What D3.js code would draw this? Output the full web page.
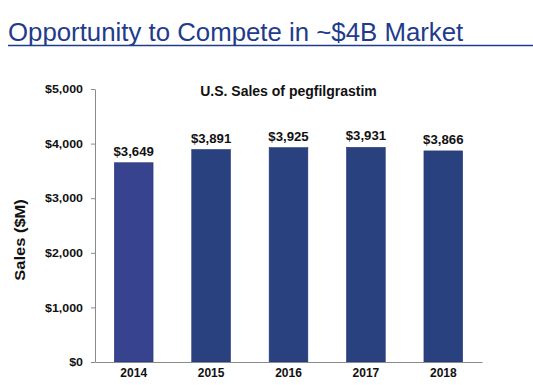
<!DOCTYPE html>
<html><head><meta charset="utf-8">
<script src="https://cdn.jsdelivr.net/npm/d3@7"></script>
<style>body{margin:0;background:#fff;}svg{display:block;}</style>
</head><body>
<svg id="c" width="533" height="385"></svg>
<script>
const years = ["2014","2015","2016","2017","2018"];
const sales = [3649, 3891, 3925, 3931, 3866];
const yTicks = [0, 1000, 2000, 3000, 4000, 5000];
const barColors = ["#37438f", "#29427f", "#29427f", "#29427f", "#29427f"];

const svg = d3.select("#c");
const font = "Arial, 'Liberation Sans', sans-serif";

function stretch(sel, k) {
  sel.each(function() {
    const len = this.getComputedTextLength();
    d3.select(this).attr("textLength", len * k).attr("lengthAdjust", "spacingAndGlyphs");
  });
}

// Slide title
svg.append("text").attr("x", 8).attr("y", 40.5)
  .attr("font-family", font).attr("font-size", 25.8).attr("fill", "#1f3c8c")
  .text("Opportunity to Compete in ~$4B Market");
svg.append("line").attr("x1", 8).attr("x2", 533).attr("y1", 45.5).attr("y2", 45.5)
  .attr("stroke", "#1f3c8c").attr("stroke-width", 1.5);

const x = d3.scaleBand().domain(years).range([95, 482]).paddingInner(0.5).paddingOuter(0.25);
const y = d3.scaleLinear().domain([0, 5000]).range([362, 89]);

// bars
svg.selectAll("rect.bar").data(sales).join("rect").attr("class","bar")
  .attr("x", (d,i) => x(years[i])).attr("width", x.bandwidth())
  .attr("y", d => y(d)).attr("height", d => y(0) - y(d))
  .attr("fill", (d,i) => barColors[i]).attr("stroke", "#223570").attr("stroke-width", 0.6);

// value labels
const vals = svg.selectAll("text.val").data(sales).join("text").attr("class","val")
  .attr("x", (d,i) => x(years[i]) + x.bandwidth()/2).attr("y", d => y(d) - 7)
  .attr("text-anchor", "middle").attr("font-family", font).attr("font-weight", "bold")
  .attr("font-size", 12).attr("fill", "#111")
  .text(d => "$" + d3.format(",")(d));
stretch(vals, 1.1);

// y axis
const yAxis = svg.append("g").attr("transform", "translate(95,0)")
  .call(d3.axisLeft(y).tickValues(yTicks).tickFormat(d => "$" + d3.format(",")(d)).tickSize(4).tickSizeOuter(0));
yAxis.select(".domain").attr("stroke", "#8a8a8a");
yAxis.selectAll(".tick line").attr("stroke", "#8a8a8a");
const yt = yAxis.selectAll(".tick text").attr("font-family", font).attr("font-weight", "bold")
  .attr("font-size", 11.3).attr("fill", "#111").attr("x", -12);
stretch(yt, 1.1);

// x axis
const xAxis = svg.append("g").attr("transform", "translate(0,362)")
  .call(d3.axisBottom(x).tickSize(0).tickSizeOuter(0));
xAxis.select(".domain").attr("stroke", "#8a8a8a");
xAxis.selectAll(".tick text").attr("font-family", font).attr("font-weight", "bold")
  .attr("font-size", 12).attr("fill", "#111").attr("dy", "1.0em");

// chart subtitle
const sub = svg.append("text").attr("x", 288.5).attr("y", 96).attr("text-anchor", "middle")
  .attr("font-family", font).attr("font-weight", "bold").attr("font-size", 14).attr("fill", "#111")
  .text("U.S. Sales of pegfilgrastim");

// y label
const yl = svg.append("text").attr("transform", "translate(25,240) rotate(-90)").attr("text-anchor", "middle")
  .attr("font-family", font).attr("font-weight", "bold").attr("font-size", 15).attr("fill", "#111")
  .text("Sales ($M)");
stretch(yl, 1.1);
</script>
</body></html>
